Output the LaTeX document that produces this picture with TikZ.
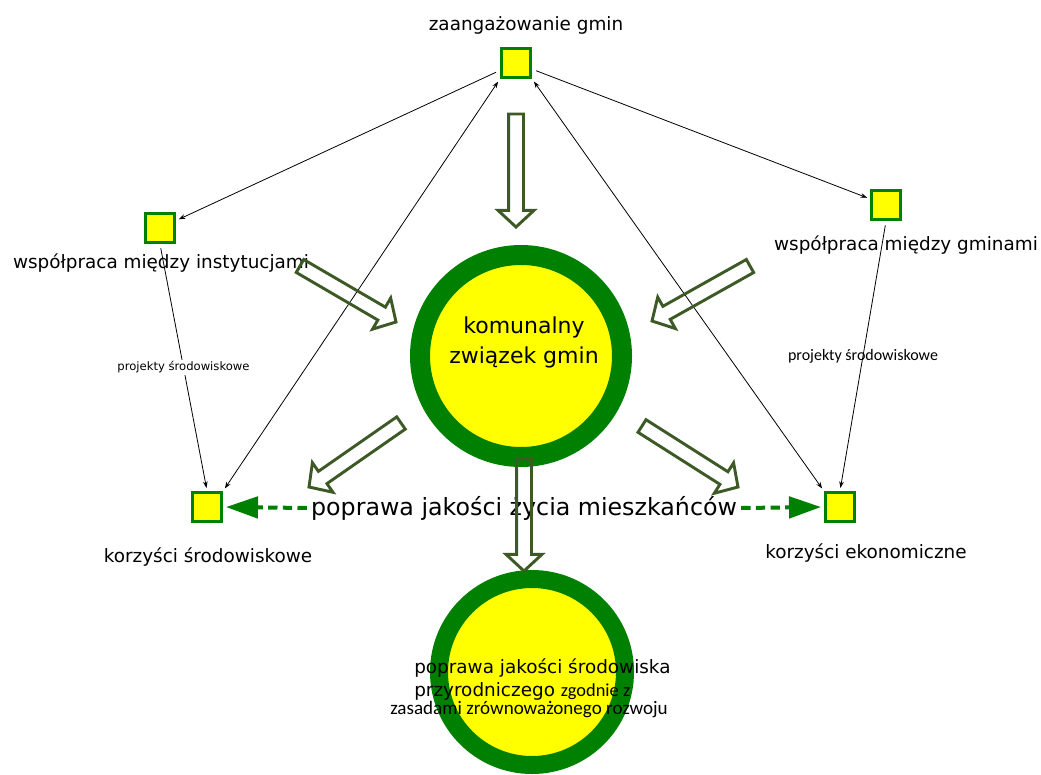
\documentclass[tikz,border=0pt]{standalone}
\usepackage{fontspec}
\setmainfont{DejaVu Sans}
\newfontfamily\calfont{Carlito}
\usetikzlibrary{arrows.meta,calc}

\definecolor{ringgreen}{RGB}{0,128,0}
\definecolor{boxyellow}{RGB}{255,255,0}
\definecolor{arrowolive}{RGB}{61,90,38}

% hollow block arrow: #1 tail, #2 tip
\newcommand{\hollowarrow}[2]{%
  \coordinate (hb) at ($(#2)!12.5pt!(#1)$);
  \draw[blockarrow] ($(#1)!5.6pt!90:(#2)$) -- ($(hb)!5.6pt!90:(#2)$) -- ($(hb)!13.5pt!90:(#2)$) -- (#2)
    -- ($(hb)!13.5pt!-90:(#2)$) -- ($(hb)!5.6pt!-90:(#2)$) -- ($(#1)!5.6pt!-90:(#2)$) -- cycle;
}

\begin{document}
\begin{tikzpicture}[x=0.75pt,y=0.75pt,yscale=-1,xscale=1,
  smallbox/.style={draw=ringgreen, fill=boxyellow, line width=2.5pt, minimum size=22pt, inner sep=0pt},
  bigring/.style={circle, draw=ringgreen, fill=boxyellow, line width=15pt, minimum size=151.5pt, inner sep=0pt},
  smallring/.style={circle, draw=ringgreen, fill=boxyellow, line width=13.5pt, minimum size=139.5pt, inner sep=0pt},
  txt/.style={font=\fontsize{13.8}{16}\selectfont, inner sep=3pt},
  thinarrow/.style={-{Stealth[length=5pt,width=3.5pt]}, line width=0.6pt, shorten >=2pt, shorten <=3pt},
  twoway/.style={{Stealth[length=5pt,width=3.5pt]}-{Stealth[length=5pt,width=3.5pt]}, line width=0.6pt, shorten >=2pt, shorten <=2pt},
  dasharrow/.style={draw=ringgreen, line width=3pt, dash pattern=on 7pt off 4pt, -{Triangle[length=24pt,width=16pt]}, shorten >=2pt},
  blockarrow/.style={draw=arrowolive, line width=2.2pt, line join=miter}
]
\useasboundingbox (0,0) rectangle (1041,774);

% Circles
\node[bigring] (zwiazek) at (521,356) {};
\node[smallring] (jakosc) at (532,672) {};

% Boxes
\node[smallbox] (gm) at (516,63) {};
\node[smallbox] (inst) at (160,228) {};
\node[smallbox] (gmi) at (886,205) {};
\node[smallbox] (sro) at (207,507) {};
\node[smallbox] (eko) at (840,507) {};

% Text Node
\node[txt] (gmtxt) at (526,25) {zaangażowanie gmin};
\node[txt] (insttxt) at (161,263) {współpraca między instytucjami};
\node[txt] (gmitxt) at (906,245) {współpraca między gminami};
\node[txt] (srotxt) at (208,557) {korzyści środowiskowe};
\node[txt] (ekotxt) at (866,553) {korzyści ekonomiczne};
\node[txt, align=center, font=\fontsize{16.5}{22.5}\selectfont] (zwtxt) at (524,342) {komunalny\\związek gmin};
\node[txt, font=\fontsize{17.8}{20}\selectfont] (zycie) at (524,508) {poprawa jakości życia mieszkańców};
\node[txt, anchor=base west, inner sep=0pt] (jk1) at (414,673) {poprawa jakości środowiska};
\node[txt, anchor=base west, inner sep=0pt] (jk2) at (414,696) {przyrodniczego {\calfont zgodnie z}};
\node[txt, anchor=base west, inner sep=0pt, font=\calfont\fontsize{14.3}{16}\selectfont] (jk3) at (390,714) {zasadami zrównoważonego rozwoju};

% Connection
\draw[thinarrow] (gm) -- (inst);
\draw[thinarrow] (gm) -- (gmi);
\draw[twoway] (sro.north east) -- (gm.south west);
\draw[twoway] (eko.north west) -- (gm.south east);
\draw[thinarrow] (inst.south) -- node[fill=white, inner sep=1pt, font=\fontsize{8.7}{10}\selectfont] (pl) {projekty środowiskowe} (sro.north);
\draw[thinarrow] (gmi.south) -- node[inner sep=1pt, font=\calfont\fontsize{12}{14}\selectfont] (pr) {projekty środowiskowe} (eko.north);

% Dashed Connection
\draw[dasharrow] (zycie.west) -- (sro.east);
\draw[dasharrow] (zycie.east) -- (eko.west);

% Block Arrows
\coordinate (topt) at (516,114);  \coordinate (toph) at (516,227);
\coordinate (ult) at (300,266);   \coordinate (ulh) at (396,322);
\coordinate (urt) at (750,266);   \coordinate (urh) at (652,321);
\coordinate (llt) at (401,423);   \coordinate (llh) at (309,487);
\coordinate (lrt) at (642,426);   \coordinate (lrh) at (738,487);
\coordinate (bmt) at (524,459);   \coordinate (bmh) at (524,571);
\hollowarrow{topt}{toph}
\hollowarrow{ult}{ulh}
\hollowarrow{urt}{urh}
\hollowarrow{llt}{llh}
\hollowarrow{lrt}{lrh}
\hollowarrow{bmt}{bmh}

\end{tikzpicture}
\end{document}
